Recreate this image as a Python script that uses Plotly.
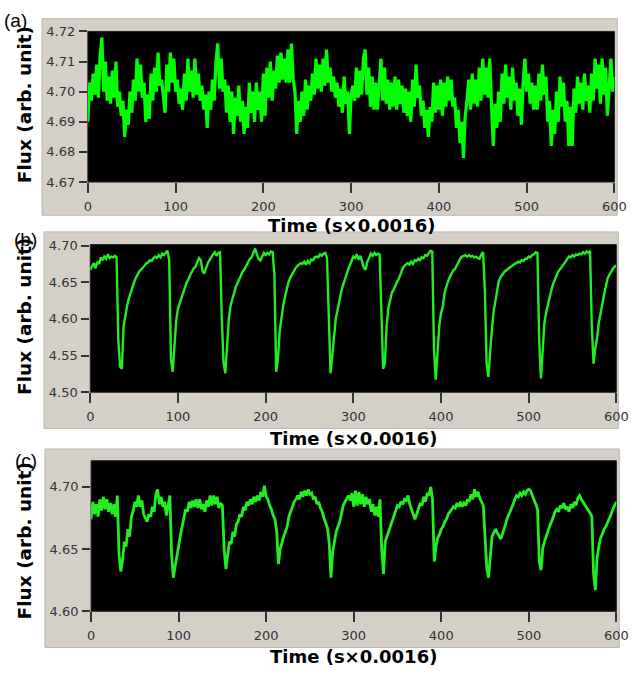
import plotly.graph_objects as go

# ---------------- data (step = 2 time units) ----------------
FLUX_A = [
    4.690, 4.703, 4.697, 4.706, 4.699, 4.709, 4.698, 4.712, 4.718, 4.700,
    4.710, 4.697, 4.705, 4.696, 4.707, 4.698, 4.710, 4.695, 4.700, 4.692,
    4.697, 4.685, 4.694, 4.689, 4.700, 4.693, 4.704, 4.697, 4.711, 4.700,
    4.709, 4.698, 4.703, 4.690, 4.699, 4.691, 4.706, 4.697, 4.708, 4.700,
    4.713, 4.702, 4.704, 4.697, 4.693, 4.709, 4.700, 4.713, 4.703, 4.711,
    4.700, 4.704, 4.696, 4.701, 4.694, 4.706, 4.697, 4.711, 4.700, 4.707,
    4.698, 4.711, 4.699, 4.706, 4.697, 4.702, 4.694, 4.699, 4.688, 4.700,
    4.694, 4.704, 4.697, 4.710, 4.716, 4.701, 4.711, 4.700, 4.704, 4.693,
    4.702, 4.690, 4.700, 4.686, 4.698, 4.692, 4.702, 4.690, 4.697, 4.686,
    4.695, 4.688, 4.703, 4.693, 4.700, 4.690, 4.703, 4.694, 4.700, 4.690,
    4.706, 4.692, 4.708, 4.698, 4.710, 4.697, 4.707, 4.701, 4.712, 4.703,
    4.713, 4.704, 4.711, 4.703, 4.714, 4.703, 4.716, 4.704, 4.700, 4.686,
    4.697, 4.690, 4.700, 4.692, 4.704, 4.694, 4.702, 4.697, 4.706, 4.699,
    4.711, 4.701, 4.709, 4.700, 4.711, 4.702, 4.714, 4.703, 4.708, 4.700,
    4.705, 4.698, 4.703, 4.695, 4.701, 4.693, 4.705, 4.696, 4.700, 4.686,
    4.699, 4.702, 4.697, 4.708, 4.698, 4.707, 4.699, 4.711, 4.714, 4.699,
    4.708, 4.695, 4.705, 4.694, 4.703, 4.694, 4.702, 4.711, 4.697, 4.708,
    4.696, 4.704, 4.694, 4.703, 4.695, 4.705, 4.694, 4.704, 4.696, 4.702,
    4.693, 4.701, 4.692, 4.700, 4.690, 4.704, 4.695, 4.709, 4.698, 4.702,
    4.692, 4.697, 4.688, 4.694, 4.685, 4.695, 4.690, 4.703, 4.693, 4.702,
    4.694, 4.704, 4.692, 4.703, 4.695, 4.705, 4.697, 4.704, 4.695, 4.698,
    4.688, 4.694, 4.683, 4.690, 4.678, 4.692, 4.697, 4.704, 4.694, 4.706,
    4.696, 4.704, 4.695, 4.708, 4.697, 4.711, 4.699, 4.708, 4.698, 4.711,
    4.695, 4.682, 4.696, 4.688, 4.700, 4.690, 4.706, 4.696, 4.709, 4.698,
    4.705, 4.694, 4.708, 4.697, 4.703, 4.692, 4.701, 4.689, 4.703, 4.711,
    4.700, 4.706, 4.696, 4.703, 4.694, 4.702, 4.694, 4.706, 4.697, 4.709,
    4.699, 4.705, 4.690, 4.697, 4.682, 4.694, 4.686, 4.700, 4.690, 4.705,
    4.695, 4.703, 4.690, 4.697, 4.682, 4.695, 4.682, 4.701, 4.693, 4.705,
    4.696, 4.703, 4.694, 4.706, 4.697, 4.702, 4.693, 4.706, 4.697, 4.711,
    4.701, 4.709, 4.696, 4.711, 4.699, 4.708, 4.692, 4.703, 4.711, 4.700,
    4.705,
]

FLUX_B = [
    4.667, 4.672, 4.676, 4.669, 4.678, 4.675, 4.684, 4.680, 4.685, 4.682,
    4.688, 4.683, 4.685, 4.684, 4.686, 4.684, 4.570, 4.535, 4.532, 4.590,
    4.606, 4.618, 4.628, 4.636, 4.645, 4.650, 4.656, 4.661, 4.665, 4.667,
    4.671, 4.673, 4.676, 4.677, 4.680, 4.679, 4.683, 4.685, 4.683, 4.687,
    4.684, 4.689, 4.687, 4.691, 4.693, 4.680, 4.545, 4.528, 4.560, 4.598,
    4.614, 4.622, 4.630, 4.638, 4.643, 4.650, 4.654, 4.660, 4.665, 4.669,
    4.671, 4.676, 4.683, 4.680, 4.665, 4.662, 4.670, 4.676, 4.680, 4.685,
    4.688, 4.691, 4.686, 4.690, 4.691, 4.600, 4.540, 4.526, 4.560, 4.600,
    4.618, 4.628, 4.637, 4.644, 4.649, 4.655, 4.660, 4.665, 4.668, 4.672,
    4.677, 4.682, 4.684, 4.690, 4.696, 4.688, 4.682, 4.680, 4.685, 4.690,
    4.687, 4.690, 4.688, 4.692, 4.691, 4.660, 4.528, 4.545, 4.583, 4.603,
    4.618, 4.630, 4.641, 4.650, 4.656, 4.661, 4.665, 4.669, 4.672, 4.674,
    4.676, 4.675, 4.678, 4.674, 4.679, 4.676, 4.681, 4.680, 4.684, 4.685,
    4.684, 4.688, 4.686, 4.689, 4.690, 4.683, 4.600, 4.526, 4.550, 4.577,
    4.600, 4.612, 4.626, 4.636, 4.645, 4.653, 4.661, 4.667, 4.673, 4.679,
    4.685, 4.683, 4.688, 4.681, 4.686, 4.678, 4.670, 4.667, 4.678, 4.683,
    4.689, 4.686, 4.690, 4.687, 4.689, 4.688, 4.620, 4.532, 4.540, 4.590,
    4.615, 4.628, 4.636, 4.640, 4.646, 4.651, 4.655, 4.662, 4.668, 4.672,
    4.674, 4.676, 4.674, 4.678, 4.675, 4.680, 4.679, 4.682, 4.680, 4.684,
    4.683, 4.687, 4.686, 4.690, 4.693, 4.692, 4.560, 4.517, 4.557, 4.590,
    4.608, 4.616, 4.635, 4.645, 4.651, 4.657, 4.662, 4.666, 4.668, 4.673,
    4.678, 4.682, 4.685, 4.686, 4.687, 4.685, 4.687, 4.685, 4.686, 4.684,
    4.685, 4.683, 4.682, 4.688, 4.691, 4.640, 4.540, 4.521, 4.560, 4.585,
    4.610, 4.625, 4.640, 4.652, 4.657, 4.661, 4.664, 4.666, 4.668, 4.670,
    4.672, 4.673, 4.675, 4.676, 4.678, 4.677, 4.680, 4.679, 4.682, 4.682,
    4.685, 4.684, 4.687, 4.688, 4.691, 4.690, 4.570, 4.519, 4.565, 4.595,
    4.609, 4.620, 4.632, 4.640, 4.648, 4.655, 4.660, 4.665, 4.668, 4.671,
    4.674, 4.678, 4.682, 4.685, 4.684, 4.687, 4.685, 4.688, 4.687, 4.689,
    4.688, 4.691, 4.689, 4.692, 4.690, 4.693, 4.590, 4.539, 4.560, 4.574,
    4.595, 4.610, 4.620, 4.633, 4.645, 4.655, 4.660, 4.665, 4.668, 4.671,
    4.673,
]

FLUX_C = [
    4.674, 4.688, 4.678, 4.686, 4.676, 4.690, 4.681, 4.692, 4.682, 4.690,
    4.680, 4.687, 4.678, 4.686, 4.676, 4.693, 4.645, 4.632, 4.642, 4.656,
    4.652, 4.666, 4.660, 4.676, 4.680, 4.688, 4.684, 4.693, 4.684, 4.689,
    4.678, 4.675, 4.672, 4.678, 4.676, 4.684, 4.680, 4.694, 4.698, 4.686,
    4.692, 4.684, 4.688, 4.677, 4.686, 4.693, 4.645, 4.627, 4.636, 4.646,
    4.652, 4.661, 4.668, 4.676, 4.682, 4.680, 4.688, 4.683, 4.689, 4.684,
    4.690, 4.683, 4.690, 4.682, 4.686, 4.680, 4.689, 4.684, 4.693, 4.685,
    4.693, 4.686, 4.692, 4.683, 4.687, 4.685, 4.650, 4.634, 4.645, 4.656,
    4.654, 4.664, 4.660, 4.670, 4.672, 4.678, 4.676, 4.684, 4.681, 4.688,
    4.685, 4.690, 4.686, 4.692, 4.688, 4.693, 4.689, 4.696, 4.692, 4.701,
    4.692, 4.690, 4.685, 4.682, 4.677, 4.674, 4.665, 4.638, 4.650, 4.656,
    4.660, 4.664, 4.668, 4.676, 4.680, 4.685, 4.688, 4.690, 4.693, 4.690,
    4.696, 4.692, 4.697, 4.693, 4.698, 4.694, 4.695, 4.690, 4.692, 4.686,
    4.688, 4.683, 4.680, 4.675, 4.670, 4.667, 4.655, 4.627, 4.648, 4.656,
    4.664, 4.668, 4.672, 4.678, 4.685, 4.688, 4.691, 4.693, 4.689, 4.695,
    4.684, 4.697, 4.685, 4.696, 4.686, 4.694, 4.684, 4.692, 4.686, 4.690,
    4.680, 4.686, 4.677, 4.684, 4.676, 4.690, 4.650, 4.630, 4.656, 4.660,
    4.664, 4.668, 4.672, 4.676, 4.681, 4.685, 4.684, 4.688, 4.686, 4.690,
    4.689, 4.693, 4.686, 4.682, 4.678, 4.674, 4.678, 4.683, 4.687, 4.685,
    4.692, 4.688, 4.695, 4.693, 4.700, 4.690, 4.640, 4.652, 4.659, 4.662,
    4.666, 4.668, 4.672, 4.674, 4.678, 4.680, 4.682, 4.684, 4.683, 4.687,
    4.684, 4.688, 4.684, 4.687, 4.685, 4.690, 4.688, 4.694, 4.690, 4.698,
    4.692, 4.696, 4.691, 4.688, 4.685, 4.660, 4.635, 4.627, 4.648, 4.660,
    4.663, 4.666, 4.663, 4.660, 4.658, 4.662, 4.667, 4.672, 4.676, 4.679,
    4.682, 4.686, 4.690, 4.693, 4.692, 4.695, 4.693, 4.696, 4.694, 4.697,
    4.698, 4.697, 4.693, 4.690, 4.686, 4.682, 4.640, 4.633, 4.651, 4.656,
    4.661, 4.665, 4.669, 4.672, 4.676, 4.680, 4.682, 4.680, 4.685, 4.683,
    4.687, 4.682, 4.684, 4.680, 4.686, 4.683, 4.688, 4.685, 4.691, 4.693,
    4.690, 4.688, 4.685, 4.683, 4.681, 4.679, 4.676, 4.630, 4.617, 4.643,
    4.652, 4.659, 4.662, 4.666, 4.668, 4.671, 4.674, 4.678, 4.682, 4.685,
    4.688,
]

TIME_STEP = 2
X_TICKS = [0, 100, 200, 300, 400, 500, 600]
Y_TICKS_A = [4.67, 4.68, 4.69, 4.70, 4.71, 4.72]
Y_TICKS_B = [4.50, 4.55, 4.60, 4.65, 4.70]
Y_TICKS_C = [4.60, 4.65, 4.70]
PANEL_LABELS = ["(a)", "(b)", "(c)"]
X_TITLE = "Time (s×0.0016)"
Y_TITLE = "Flux (arb. unit)"

# ---------------- layout helpers ----------------
W, H = 642, 677


def px_x(x):
    return x / W


def px_y(y):
    return 1 - y / H


panels = [
    dict(plot=(86, 626, 25, 179), box=(39, 629, 12, 213), yr=[4.67, 4.72],
         yt=Y_TICKS_A, data=FLUX_A, color="#00ff00", lw=3.2, xt_y=223, lab=(12, 14)),
    dict(plot=(88.5, 628, 243, 394), box=(41, 630, 230, 431), yr=[4.50, 4.7013],
         yt=Y_TICKS_B, data=FLUX_B, color="#22ee22", lw=2.4, xt_y=441, lab=(22, 238)),
    dict(plot=(89.3, 628, 464, 618), box=(42, 631, 452, 655), yr=[4.60, 4.721],
         yt=Y_TICKS_C, data=FLUX_C, color="#22ee22", lw=2.8, xt_y=664, lab=(23, 464)),
]

TICK_FONT = dict(family="DejaVu Sans", size=13, color="#333")

fig = go.Figure()
shapes = []
annotations = []
layout_axes = {}

for i, p in enumerate(panels):
    n = i + 1
    xa = "xaxis" if n == 1 else f"xaxis{n}"
    ya = "yaxis" if n == 1 else f"yaxis{n}"
    xr = "x" if n == 1 else f"x{n}"
    yr = "y" if n == 1 else f"y{n}"
    x0, x1, y0, y1 = p["plot"]
    times = list(range(0, TIME_STEP * len(p["data"]), TIME_STEP))
    fig.add_trace(go.Scatter(x=times, y=p["data"], mode="lines",
                             line=dict(color=p["color"], width=p["lw"]),
                             xaxis=xr, yaxis=yr, showlegend=False,
                             hoverinfo="skip"))
    layout_axes[xa] = dict(domain=[px_x(x0), px_x(x1)], range=[0, 600],
                           anchor=yr, tickvals=X_TICKS, ticks="outside",
                           ticklen=10, tickwidth=1.5, tickcolor="#333",
                           showgrid=False, zeroline=False, showline=False,
                           tickfont=TICK_FONT, ticklabelstandoff=2,
                           fixedrange=True)
    layout_axes[ya] = dict(domain=[px_y(y1), px_y(y0)], range=p["yr"],
                           anchor=xr, tickvals=p["yt"], tickformat=".2f",
                           ticks="outside", ticklen=8, tickwidth=1.5,
                           tickcolor="#333", showgrid=False, zeroline=False,
                           showline=False, tickfont=TICK_FONT,
                           ticklabelstandoff=1, fixedrange=True)
    bx0, bx1, by0, by1 = p["box"]
    shapes.append(dict(type="rect", xref="paper", yref="paper",
                       x0=px_x(bx0), x1=px_x(bx1), y0=px_y(by1), y1=px_y(by0),
                       fillcolor="#d4d0c8", line=dict(color="#bcb8b0", width=1),
                       layer="below"))
    shapes.append(dict(type="rect", xref="paper", yref="paper",
                       x0=px_x(x0), x1=px_x(x1), y0=px_y(y1), y1=px_y(y0),
                       fillcolor="black", line=dict(color="#222", width=1),
                       layer="below"))
    annotations.append(dict(text=f"<b>{X_TITLE}</b>", xref="paper", yref="paper",
                            x=px_x((x0 + x1) / 2), y=px_y(p["xt_y"]),
                            xanchor="center", yanchor="middle", showarrow=False,
                            font=dict(family="DejaVu Sans", size=18, color="black")))
    annotations.append(dict(text=f"<b>{Y_TITLE}</b>", xref="paper", yref="paper",
                            x=px_x(21), y=px_y((y0 + y1) / 2 + (5 if n == 3 else -2)),
                            xanchor="center", yanchor="middle", showarrow=False,
                            textangle=-90,
                            font=dict(family="DejaVu Sans", size=18.5, color="black")))
    lx, ly = p["lab"]
    annotations.append(dict(text=PANEL_LABELS[i], xref="paper", yref="paper",
                            x=px_x(lx), y=px_y(ly), xanchor="center",
                            yanchor="middle", showarrow=False,
                            font=dict(family="Liberation Sans", size=19, color="black")))

fig.update_layout(width=W, height=H, margin=dict(l=0, r=0, t=0, b=0),
                  paper_bgcolor="white", plot_bgcolor="rgba(0,0,0,0)",
                  shapes=shapes, annotations=annotations, **layout_axes)

fig.write_html("out.html", config={"displayModeBar": False},
               post_script="document.body.style.margin='0';document.body.style.padding='0';")
